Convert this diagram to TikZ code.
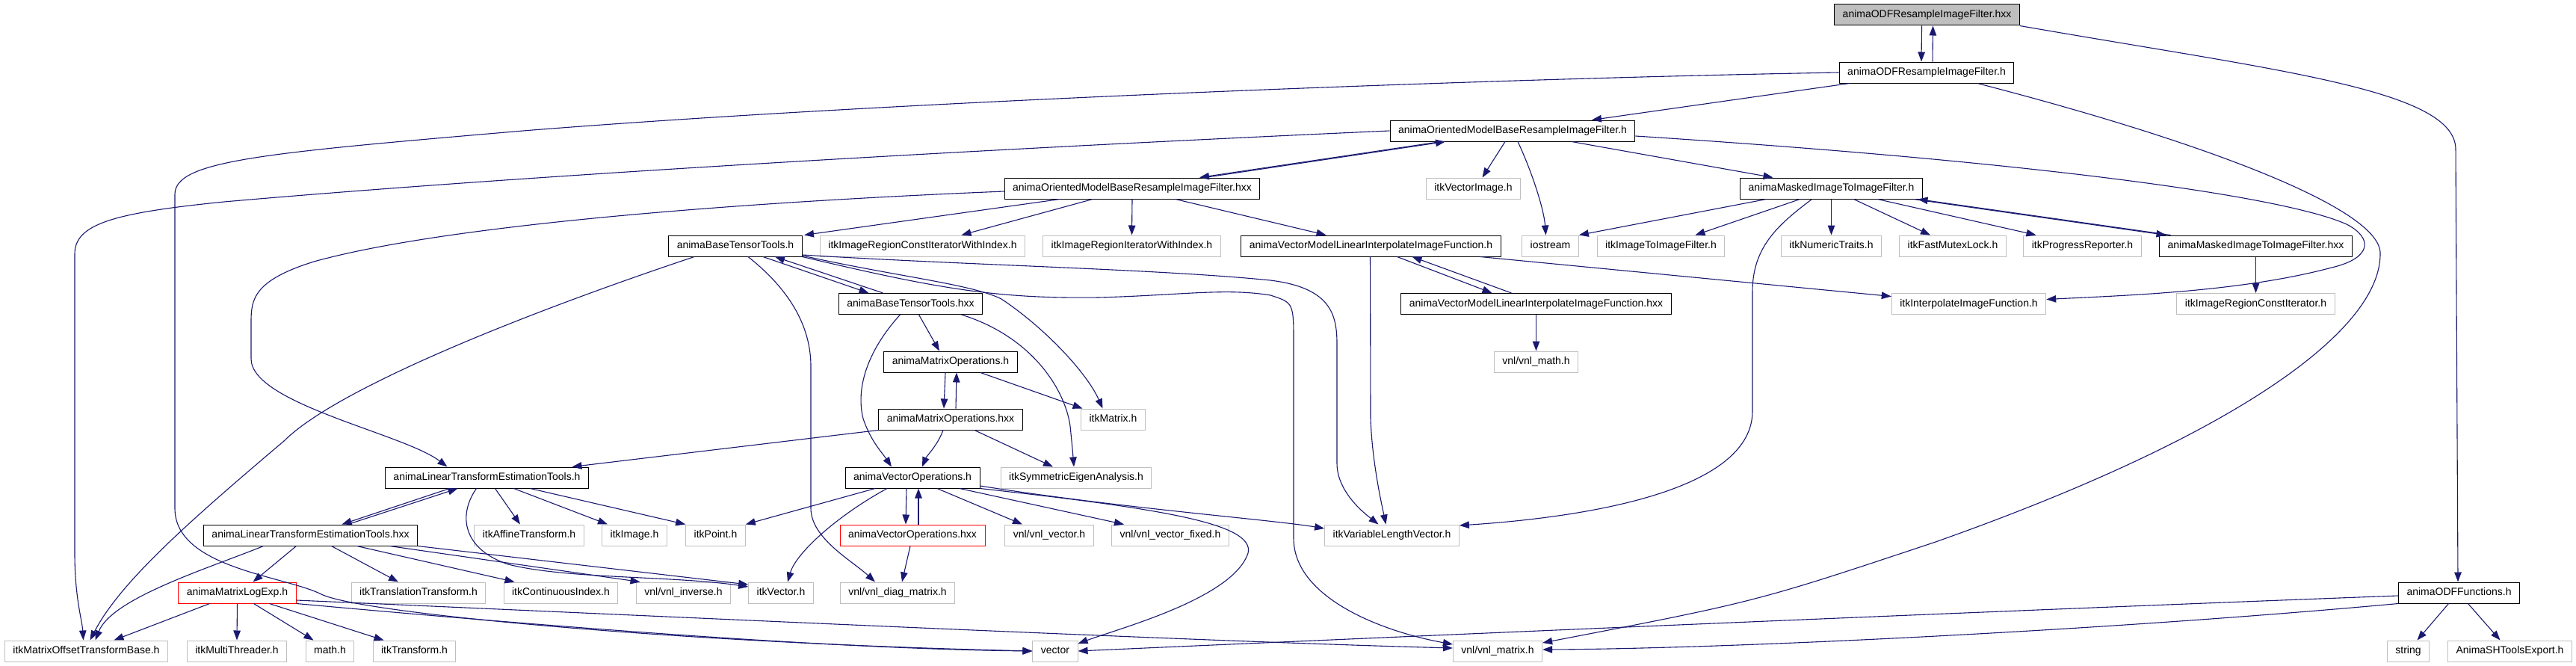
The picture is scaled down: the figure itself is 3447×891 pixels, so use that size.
\documentclass[tikz,border=0pt]{standalone}
\usepackage{fontspec}
\setmainfont{Liberation Sans}
\usetikzlibrary{arrows.meta}
\definecolor{grey75}{HTML}{BFBFBF}
\definecolor{edgeblue}{HTML}{191970}
\begin{document}
\begin{tikzpicture}[x=1pt, y=-1pt, font=\fontsize{14}{16}\selectfont,
  file/.style={draw=black, line width=1pt, fill=white, minimum height=28pt, inner xsep=11pt, inner ysep=0pt, text height=10pt, text depth=3pt},
  extfile/.style={file, draw=grey75},
  redfile/.style={file, draw=red},
  curfile/.style={file, fill=grey75},
  incl/.style={-{Triangle[length=13pt,width=9.5pt]}, draw=edgeblue, line width=1.1pt}]
  \path[fill=white, use as bounding box] (0,0) rectangle (3447,891);
  % rows of the include graph
  \node[curfile] (cur) at (2578.5,20) {animaODFResampleImageFilter.hxx};
  \node[file] (odfh) at (2578,97) {animaODFResampleImageFilter.h};
  \node[file] (ombrifh) at (2024,175) {animaOrientedModelBaseResampleImageFilter.h};
  \node[file] (ombrifhxx) at (1515,252) {animaOrientedModelBaseResampleImageFilter.hxx};
  \node[extfile] (vecimg) at (1971.5,252) {itkVectorImage.h};
  \node[file] (mitifh) at (2450.5,252) {animaMaskedImageToImageFilter.h};
  \node[file] (btth) at (984,329) {animaBaseTensorTools.h};
  \node[extfile] (ircitwi) at (1234.5,329) {itkImageRegionConstIteratorWithIndex.h};
  \node[extfile] (iritwi) at (1514.5,329) {itkImageRegionIteratorWithIndex.h};
  \node[file] (vmliifh) at (1834.5,329) {animaVectorModelLinearInterpolateImageFunction.h};
  \node[extfile] (iostream) at (2074.5,329) {iostream};
  \node[extfile] (itif) at (2222.5,329) {itkImageToImageFilter.h};
  \node[extfile] (numtraits) at (2450.5,329) {itkNumericTraits.h};
  \node[extfile] (fastmutex) at (2613,329) {itkFastMutexLock.h};
  \node[extfile] (progress) at (2786.5,329) {itkProgressReporter.h};
  \node[file] (mitifhxx) at (3018.5,329) {animaMaskedImageToImageFilter.hxx};
  \node[file] (btthxx) at (1218.5,406.5) {animaBaseTensorTools.hxx};
  \node[file] (vmliifhxx) at (2055.5,406.5) {animaVectorModelLinearInterpolateImageFunction.hxx};
  \node[extfile] (interp) at (2634.5,406.5) {itkInterpolateImageFunction.h};
  \node[extfile] (irci) at (3018.5,406.5) {itkImageRegionConstIterator.h};
  \node[file] (matoph) at (1272,484) {animaMatrixOperations.h};
  \node[extfile] (vnlmath) at (2055.5,484) {vnl/vnl\_math.h};
  \node[file] (matophxx) at (1272,561) {animaMatrixOperations.hxx};
  \node[extfile] (itkmatrix) at (1489.5,561) {itkMatrix.h};
  \node[file] (ltet) at (651.5,639) {animaLinearTransformEstimationTools.h};
  \node[file] (vecoph) at (1221,639) {animaVectorOperations.h};
  \node[extfile] (symeig) at (1440,639) {itkSymmetricEigenAnalysis.h};
  \node[file] (ltethxx) at (415.5,716) {animaLinearTransformEstimationTools.hxx};
  \node[extfile] (affine) at (708,716) {itkAffineTransform.h};
  \node[extfile] (itkimage) at (849,716) {itkImage.h};
  \node[extfile] (itkpoint) at (957.5,716) {itkPoint.h};
  \node[redfile] (vecophxx) at (1221,716) {animaVectorOperations.hxx};
  \node[extfile] (vnlvector) at (1404,716) {vnl/vnl\_vector.h};
  \node[extfile] (vnlvecfixed) at (1566,716) {vnl/vnl\_vector\_fixed.h};
  \node[extfile] (varlen) at (1862.5,716) {itkVariableLengthVector.h};
  \node[redfile] (logexp) at (317.5,793) {animaMatrixLogExp.h};
  \node[extfile] (translation) at (560,793) {itkTranslationTransform.h};
  \node[extfile] (contindex) at (750.5,793) {itkContinuousIndex.h};
  \node[extfile] (vnlinverse) at (914.5,793) {vnl/vnl\_inverse.h};
  \node[extfile] (itkvector) at (1045,793) {itkVector.h};
  \node[extfile] (vnldiag) at (1201,793) {vnl/vnl\_diag\_matrix.h};
  \node[file] (odffunc) at (3290.5,793) {animaODFFunctions.h};
  \node[extfile] (motb) at (115.5,871) {itkMatrixOffsetTransformBase.h};
  \node[extfile] (multithreader) at (317,871) {itkMultiThreader.h};
  \node[extfile] (mathh) at (441.5,871) {math.h};
  \node[extfile] (itktransform) at (554.5,871) {itkTransform.h};
  \node[extfile] (vector) at (1412,871) {vector};
  \node[extfile] (vnlmatrix) at (2004,871) {vnl/vnl\_matrix.h};
  \node[extfile] (string) at (3222.5,871) {string};
  \node[extfile] (shexport) at (3358.5,871) {AnimaSHToolsExport.h};
  % includes
  \draw[incl] ([xshift=-7]cur.south) -- ([xshift=-7]odfh.north);
  \draw[incl] ([xshift=8]odfh.north) -- ([xshift=8]cur.south);
  \draw[incl] (cur.south east) .. controls (3050,95) and (3286,120) .. (3286,200) -- ([xshift=-1.5]odffunc.north);
  \draw[incl] ([xshift=-103]odfh.south) -- ([xshift=106]ombrifh.north);
  \draw[incl] ([xshift=68]odfh.south) .. controls (2950,190) and (3188,280) .. (3185,340) .. controls (3185,440) and (3000,580) .. (2590,725) .. controls (2350,805) .. ([yshift=11]vnlmatrix.east);
  \draw[incl] (odfh.west) .. controls (2000,105) and (1200,135) .. (700,175) .. controls (350,205) and (234,215) .. (234,260) -- (234,680) .. controls (234,760) and (380,770) .. (430,795) .. controls (480,820) and (900,860) .. (vector.west);
  \draw[incl] ([xshift=-96]ombrifh.south) -- ([xshift=90]ombrifhxx.north);
  \draw[incl] ([xshift=97]ombrifhxx.north) -- ([xshift=-90]ombrifh.south);
  \draw[incl] (ombrifh.west) .. controls (1300,200) and (700,235) .. (300,270) .. controls (150,285) and (100,300) .. (100,340) -- (100,740) .. controls (100,800) and (110,830) .. ([xshift=-4]motb.north);
  \draw[incl] ([xshift=-10]ombrifh.south) -- ([xshift=12]vecimg.north);
  \draw[incl] ([xshift=7]ombrifh.south) .. controls (2050,230) and (2066,280) .. ([xshift=-6]iostream.north);
  \draw[incl] ([xshift=79]ombrifh.south) -- ([xshift=-78]mitifh.north);
  \draw[incl] ([yshift=-7]ombrifh.east) .. controls (2700,215) and (3050,260) .. (3140,300) .. controls (3175,318) and (3175,345) .. (3120,358) .. controls (3000,390) and (2850,395) .. ([yshift=6]interp.east);
  \draw[incl] ([yshift=-4]ombrifhxx.west) .. controls (1000,270) and (600,300) .. (420,350) .. controls (340,375) and (336,400) .. (336,430) -- (336,480) .. controls (336,540) and (540,580) .. ([xshift=-53]ltet.north);
  \draw[incl] ([xshift=-97]ombrifhxx.south) -- ([xshift=92]btth.north);
  \draw[incl] ([xshift=-53]ombrifhxx.south) -- ([xshift=52]ircitwi.north);
  \draw[incl] (ombrifhxx.south) -- (iritwi.north);
  \draw[incl] ([xshift=58]ombrifhxx.south) -- ([xshift=-60]vmliifh.north);
  \draw[incl] ([xshift=-87]mitifh.south) -- (iostream.north east);
  \draw[incl] ([xshift=-42]mitifh.south) -- ([xshift=46]itif.north);
  \draw[incl] ([xshift=-26]mitifh.south) .. controls (2380,300) and (2345,330) .. (2345,390) -- (2345,550) .. controls (2345,650) and (2150,690) .. ([yshift=13]varlen.east);
  \draw[incl] (mitifh.south) -- (numtraits.north);
  \draw[incl] ([xshift=30]mitifh.south) -- ([xshift=-30]fastmutex.north);
  \draw[incl] ([xshift=62]mitifh.south) -- ([xshift=-62]progress.north);
  \draw[incl] ([xshift=110]mitifh.south) -- ([xshift=-120]mitifhxx.north);
  \draw[incl] ([xshift=-114]mitifhxx.north) -- ([xshift=116]mitifh.south);
  \draw[incl] (mitifhxx.south) -- (irci.north);
  \draw[incl] ([xshift=-1]vmliifh.south) -- (1834,560) .. controls (1836,620) and (1850,680) .. ([xshift=-8]varlen.north);
  \draw[incl] ([xshift=35]vmliifh.south) -- ([xshift=-59]vmliifhxx.north);
  \draw[incl] ([xshift=-33]vmliifhxx.north) -- ([xshift=55]vmliifh.south);
  \draw[incl] ([xshift=146]vmliifh.south) -- ([yshift=10]interp.west);
  \draw[incl] (vmliifhxx.south) -- (vnlmath.north);
  \draw[incl] ([xshift=37]btth.south) -- ([xshift=-56]btthxx.north);
  \draw[incl] ([xshift=-37]btthxx.north) -- ([xshift=53]btth.south);
  \draw[incl] ([xshift=-55]btth.south) .. controls (700,420) and (450,520) .. (380,590) .. controls (250,700) and (160,780) .. ([xshift=5]motb.north);
  \draw[incl] ([xshift=17]btth.south) .. controls (1060,390) and (1085,440) .. (1085,490) -- (1085,680) .. controls (1085,720) and (1140,750) .. ([xshift=-30]vnldiag.north);
  \draw[incl] ([yshift=-12]btth.east) .. controls (1300,355) and (1550,360) .. (1700,375) .. controls (1780,385) and (1789,420) .. (1789,460) -- (1789,620) .. controls (1789,660) and (1830,690) .. ([xshift=-18]varlen.north);
  \draw[incl] (btth.south east) .. controls (1250,385) and (1330,400) .. (1470,398) .. controls (1580,395) and (1640,385) .. (1700,395) .. controls (1731,405) .. (1731,460) -- (1731,720) .. controls (1731,800) and (1850,845) .. ([yshift=9]vnlmatrix.west);
  \draw[incl] ([yshift=-13]btth.east) .. controls (1200,370) and (1300,380) .. (1340,400) .. controls (1400,440) and (1455,500) .. ([xshift=-14]itkmatrix.north);
  \draw[incl] ([xshift=11]btthxx.south) -- ([xshift=-15]matoph.north);
  \draw[incl] ([xshift=-14]btthxx.south) .. controls (1160,470) and (1145,520) .. (1155,560) .. controls (1165,590) and (1180,605) .. ([xshift=-28]vecoph.north);
  \draw[incl] ([xshift=68]btthxx.south) .. controls (1380,450) and (1425,520) .. (1432,570) .. controls (1435,600) .. ([xshift=-3]symeig.north);
  \draw[incl] ([xshift=-7]matoph.south) -- ([xshift=-9]matophxx.north);
  \draw[incl] ([xshift=7]matophxx.north) -- ([xshift=8]matoph.south);
  \draw[incl] ([xshift=40]matoph.south) -- ([xshift=-41]itkmatrix.north);
  \draw[incl] (matophxx.south west) -- ([xshift=114]ltet.north);
  \draw[incl] ([xshift=-10]matophxx.south) .. controls (1255,595) and (1240,610) .. ([xshift=13]vecoph.north);
  \draw[incl] ([xshift=32]matophxx.south) -- ([xshift=-31]symeig.north);
  \draw[incl] ([xshift=-50]ltet.south) -- ([xshift=42]ltethxx.north);
  \draw[incl] ([xshift=50]ltethxx.north) -- ([xshift=-39]ltet.south);
  \draw[incl] ([xshift=11]ltet.south) -- ([xshift=-12]affine.north);
  \draw[incl] ([xshift=36]ltet.south) -- ([xshift=-36]itkimage.north);
  \draw[incl] ([xshift=58]ltet.south) -- (itkpoint.north west);
  \draw[incl] ([xshift=-14]ltet.south) .. controls (612,690) and (620,735) .. (680,755) .. controls (760,775) and (900,770) .. ([yshift=8]itkvector.west);
  \draw[incl] ([xshift=-63]ltethxx.south) .. controls (280,760) and (150,800) .. ([xshift=12]motb.north);
  \draw[incl] ([xshift=-19]ltethxx.south) -- ([xshift=21]logexp.north);
  \draw[incl] ([xshift=28]ltethxx.south) -- ([xshift=-27]translation.north);
  \draw[incl] ([xshift=62]ltethxx.south) -- ([xshift=-62]contindex.north);
  \draw[incl] ([xshift=106]ltethxx.south) -- ([xshift=-58]vnlinverse.north);
  \draw[incl] (ltethxx.south east) -- ([yshift=11]itkvector.west);
  \draw[incl] ([xshift=-37]logexp.south) -- ([xshift=37]motb.north);
  \draw[incl] (logexp.south) -- (multithreader.north);
  \draw[incl] ([xshift=22]logexp.south) -- ([xshift=-22]mathh.north);
  \draw[incl] ([xshift=43]logexp.south) -- ([xshift=-41]itktransform.north);
  \draw[incl] ([yshift=-10]logexp.east) .. controls (900,825) and (1600,858) .. ([yshift=4]vnlmatrix.west);
  \draw[incl] (logexp.south east) .. controls (700,835) and (1100,868) .. (vector.west);
  \draw[incl] ([yshift=-4]odffunc.west) .. controls (2600,820) and (1800,855) .. (vector.east);
  \draw[incl] (odffunc.south west) .. controls (2800,845) and (2300,868) .. ([yshift=2]vnlmatrix.east);
  \draw[incl] ([xshift=-14]odffunc.south) -- ([xshift=12]string.north);
  \draw[incl] ([xshift=12]odffunc.south) -- ([xshift=-13]shexport.north);
  \draw[incl] ([xshift=-50]vecoph.south) -- (itkpoint.north east);
  \draw[incl] ([xshift=-34]vecoph.south) .. controls (1120,690) and (1065,740) .. ([xshift=9]itkvector.north);
  \draw[incl] ([xshift=-8]vecoph.south) -- ([xshift=-9]vecophxx.north);
  \draw[incl] ([xshift=8]vecophxx.north) -- ([xshift=8]vecoph.south);
  \draw[incl] ([xshift=33]vecoph.south) -- ([xshift=-36]vnlvector.north);
  \draw[incl] ([xshift=63]vecoph.south) -- ([xshift=-62]vnlvecfixed.north);
  \draw[incl] (vecoph.south east) .. controls (1550,680) and (1680,700) .. (1670,740) .. controls (1650,800) and (1500,840) .. ([yshift=10]vector.east);
  \draw[incl] ([yshift=-11]vecoph.east) .. controls (1500,680) and (1700,695) .. ([yshift=9]varlen.west);
  \draw[incl] ([xshift=-3]vecophxx.south) -- ([xshift=6]vnldiag.north);
\end{tikzpicture}
\end{document}
